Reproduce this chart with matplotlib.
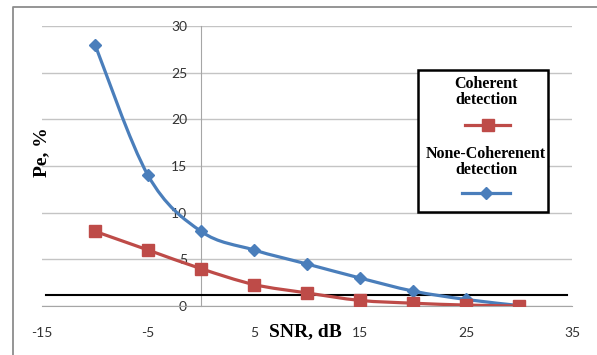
import numpy as np
import matplotlib.pyplot as plt
from matplotlib.path import Path
from matplotlib.patches import PathPatch, Rectangle
from matplotlib.lines import Line2D

snr = [-10, -5, 0, 5, 10, 15, 20, 25, 30]
pe_coherent = [8, 6, 4, 2.3, 1.4, 0.6, 0.3, 0.1, 0]
pe_noncoherent = [28, 14, 8, 6, 4.5, 3, 1.6, 0.7, 0.05]
threshold_x = [-14.6, 34.5]
threshold_y = [1.2, 1.2]
xticks = [-15, -5, 5, 15, 25, 35]
yticks = [0, 5, 10, 15, 20, 25, 30]

blue = '#4A7EBB'
red = '#BE4B48'
serif = 'Liberation Serif'

plt.rcParams['axes.unicode_minus'] = False


def smooth_path(x, y):
    # smoothed line like the spreadsheet "smoothed line" option
    pts = np.column_stack([x, y]).astype(float)
    n = len(pts)
    verts = [pts[0]]
    codes = [Path.MOVETO]
    for i in range(n - 1):
        p0 = pts[i - 1] if i > 0 else pts[i]
        p1 = pts[i]
        p2 = pts[i + 1]
        p3 = pts[i + 2] if i + 2 < n else pts[i + 1]
        verts += [p1 + (p2 - p0) / 6, p2 - (p3 - p1) / 6, p2]
        codes += [Path.CURVE4] * 3
    return Path(verts, codes)


fig = plt.figure(figsize=(5.97, 3.55), dpi=100)
ax = fig.add_axes([42 / 597, 1 - 306 / 355, 530 / 597, 280 / 355])
ax.set_xlim(-15, 35)
ax.set_ylim(0, 30)

for s in ['top', 'right']:
    ax.spines[s].set_visible(False)
ax.spines['left'].set_position(('data', 0))
ax.spines['left'].set_color('#A6A6A6')
ax.spines['bottom'].set_color('#A6A6A6')
ax.yaxis.grid(True, color='#C4C4C4', linewidth=1)
ax.set_axisbelow(True)

ax.set_xticks(xticks)
ax.set_xticks([-15, 35], minor=True)
ax.set_yticks(yticks)
ax.tick_params(axis='x', which='major', length=0, pad=15, labelsize=10,
               labelcolor='#333333')
ax.tick_params(axis='x', which='minor', length=5, color='#A6A6A6')
ax.tick_params(axis='y', length=0, pad=10, labelsize=10, labelcolor='#333333')
for lab in ax.get_xticklabels() + ax.get_yticklabels():
    lab.set_family('Lato')

ax.plot(threshold_x, threshold_y, color='black', linewidth=1.5, zorder=3)

ax.add_patch(PathPatch(smooth_path(snr, pe_noncoherent), fill=False,
                       edgecolor=blue, linewidth=2.3, zorder=4))
ax.plot(snr, pe_noncoherent, linestyle='none', marker='D', markersize=6,
        color=blue, zorder=5)
ax.add_patch(PathPatch(smooth_path(snr, pe_coherent), fill=False,
                       edgecolor=red, linewidth=2.3, zorder=6))
ax.plot(snr, pe_coherent, linestyle='none', marker='s', markersize=8,
        color=red, zorder=7)

fig.text(42 / 597, 1 - 152 / 355, 'Pe, %', rotation=90, ha='center',
         va='center', family=serif, weight='bold', fontsize=14)
fig.text(305 / 597, 1 - 332 / 355, 'SNR, dB', ha='center', va='center',
         family=serif, weight='bold', fontsize=14)

# legend box
fig.patches.append(Rectangle((418 / 597, 1 - 212 / 355), 130 / 597, 142 / 355,
                             transform=fig.transFigure, fill=True,
                             facecolor='white', edgecolor='black',
                             linewidth=1.8, zorder=10))
fig.text(486 / 597, 1 - 92 / 355, 'Coherent\ndetection', ha='center',
         va='center', family=serif, weight='bold', fontsize=11.5,
         linespacing=1.05, zorder=11)
fig.lines.append(Line2D([465 / 597, 510 / 597], [1 - 125 / 355] * 2,
                        transform=fig.transFigure, color=red, linewidth=2.3,
                        zorder=11))
fig.lines.append(Line2D([487.5 / 597], [1 - 125 / 355],
                        transform=fig.transFigure, color=red, marker='s',
                        markersize=8, linestyle='none', zorder=12))
fig.text(486 / 597, 1 - 162 / 355, 'None-Coherenent\ndetection', ha='center',
         va='center', family=serif, weight='bold', fontsize=11.5,
         linespacing=1.05, zorder=11)
fig.lines.append(Line2D([462 / 597, 510 / 597], [1 - 193 / 355] * 2,
                        transform=fig.transFigure, color=blue, linewidth=2.3,
                        zorder=11))
fig.lines.append(Line2D([486 / 597], [1 - 193 / 355],
                        transform=fig.transFigure, color=blue, marker='D',
                        markersize=6, linestyle='none', zorder=12))

# outer chart border (left and top visible)
fig.lines.append(Line2D([13 / 597, 13 / 597, 1], [0, 1 - 7 / 355, 1 - 7 / 355],
                        transform=fig.transFigure, color='#8C8C8C',
                        linewidth=1.3))

fig.savefig('out.png', dpi=100)
